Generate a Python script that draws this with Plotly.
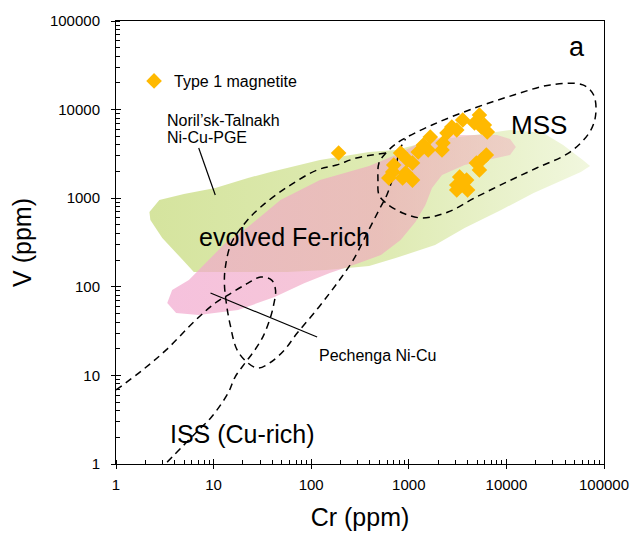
import plotly.graph_objects as go

# Type 1 magnetite analyses (Cr ppm, V ppm)
cr_type1 = [5290, 4710, 5540, 6370, 3570, 2760, 3100, 2460, 1660, 2240, 2190, 1580, 1250,
            824, 970, 1090, 685, 624, 926, 1090, 864, 6230, 5540, 4930, 3320, 3910, 3100,
            4000, 3100, 3570, 191, 701, 1410, 5940, 5290]
v_type1 = [8690, 7060, 6360, 5590, 7630, 6360, 5890, 5450, 4910, 4200, 3500, 3500, 3320,
           3240, 2700, 2500, 1980, 1690, 1925, 1600, 1690, 3070, 2700, 2500, 1735, 1600, 1410,
           1238, 1238, 1485, 3240, 2370, 3980, 6700, 2080]

# Noril'sk-Talnakh Ni-Cu-PGE field outline
norilsk_cr = [2.20, 2.78, 4.97, 10.4, 22.5, 38.4, 123, 392, 734, 1860, 4710, 11100, 23900,
              38100, 60700, 72000, 57900, 38100, 19000, 8830, 3730, 1860, 734, 392, 144, 57.0,
              17.8, 6.27, 4.63, 2.98, 2.25]
norilsk_v = [698, 955, 1115, 1303, 1690, 1977, 2700, 3320, 3500, 4540, 5170, 5890, 5450,
             3980, 2700, 2310, 1977, 1605, 1145, 736, 461, 296, 211, 172, 155, 147,
             147, 147, 211, 356, 567]

# evolved Fe-rich field outline
fe_cr = [3.35, 3.76, 5.58, 7.55, 13.2, 22.5, 48.4, 123, 392, 734, 1170, 2520, 8040, 10900,
         12500, 10900, 8040, 3730, 2190, 1730, 1480, 1170, 824, 518, 290, 155, 84.6, 42.2,
         17.8, 7.04, 4.13]
fe_v = [65.6, 92.0, 119, 167, 312, 473, 955, 1605, 2310, 3070, 3980, 5170, 5170, 4660,
        3780, 3070, 2840, 2370, 1830, 1303, 838, 539, 338, 229, 181, 143, 110, 76.7,
        54.7, 48.1, 50.6]

# MSS field outline (closed)
mss_cr = [582, 787, 1730, 4710, 11900, 28200, 60700, 78300, 82100, 71400, 44900, 20400,
          10100, 4710, 2520, 1380, 864, 582, 495, 483, 495, 582]
mss_v = [3240, 4310, 6700, 10400, 14600, 19000, 19000, 14600, 8690, 5590, 3320, 2190,
         1524, 1005, 698, 598, 681, 883, 1087, 1605, 2500, 3240]

# Pechenga Ni-Cu field outline
pech_cr = [582, 290, 182, 115, 57.0, 30.4, 21.0, 15.2, 13.2, 12.9, 13.5, 14.8, 17.4, 22.5,
           28.4, 37.5, 53.2, 71.9, 107, 155, 205, 270, 366, 495, 596, 685, 734, 806, 926]
pech_v = [3240, 2840, 2370, 2080, 1337, 796, 525, 312, 167, 110, 65.6, 37.1, 19.4, 13.8,
          12.1, 13.8, 19.4, 30.1, 50.6, 85.1, 129, 201, 384, 736, 1087, 1690, 2190, 3500, 4660]

# ISS (Cu-rich) field boundary (open curve)
iss_cr = [1.0, 1.87, 3.27, 6.57, 10.4, 15.2, 22.5, 30.4, 39.3, 43.1, 41.2, 37.5, 31.9, 26.5,
          21.0, 16.6, 14.1, 9.52, 7.04, 4.74, 3.2]
iss_v = [6.84, 11.5, 19.4, 42.2, 65.6, 85.1, 110, 129, 119, 92.0, 62.3, 42.2, 27.1, 19.4,
         13.8, 9.59, 6.33, 3.39, 2.42, 1.56, 1.0]

# label leader lines
norilsk_leader_cr = [7.04, 10.4]
norilsk_leader_v = [3690, 1087]
pech_leader_cr = [9.30, 115]
pech_leader_v = [85.1, 27.1]

axis_ticks = [1, 10, 100, 1000, 10000, 100000]
axis_ticktext = ["1", "10", "100", "1000", "10000", "100000"]

FONT = "Liberation Sans, Arial, sans-serif"

fig = go.Figure()

fig.add_trace(go.Scatter(
    x=norilsk_cr, y=norilsk_v, mode="lines", fill="toself", line=dict(width=0),
    fillgradient=dict(type="horizontal",
                      colorscale=[[0, "rgb(213,228,158)"], [0.55, "rgb(223,235,180)"],
                                  [1, "rgb(241,247,222)"]]),
    showlegend=False, hoverinfo="skip"))

fig.add_trace(go.Scatter(
    x=fe_cr, y=fe_v, mode="lines", fill="toself", line=dict(width=0),
    fillgradient=dict(type="horizontal",
                      colorscale=[[0, "rgba(242,170,208,0.72)"], [0.6, "rgba(240,165,190,0.62)"],
                                  [1, "rgba(240,175,190,0.5)"]]),
    showlegend=False, hoverinfo="skip"))

dash_line = dict(color="black", width=1.5, dash="7px,5px")
for xs, ys in [(mss_cr, mss_v), (pech_cr, pech_v), (iss_cr, iss_v)]:
    fig.add_trace(go.Scatter(x=xs, y=ys, mode="lines", line=dash_line,
                             line_shape="spline", showlegend=False, hoverinfo="skip"))

for xs, ys in [(norilsk_leader_cr, norilsk_leader_v), (pech_leader_cr, pech_leader_v)]:
    fig.add_trace(go.Scatter(x=xs, y=ys, mode="lines", line=dict(color="black", width=1.2),
                             showlegend=False, hoverinfo="skip"))

fig.add_trace(go.Scatter(
    x=cr_type1, y=v_type1, mode="markers", name="Type 1 magnetite",
    marker=dict(symbol="diamond", size=12, color="#FFB900", line=dict(width=0))))

# overlay axes for the inner half of the crossing major ticks
fig.add_trace(go.Scatter(x=[], y=[], xaxis="x2", yaxis="y2", showlegend=False, hoverinfo="skip"))

common = dict(type="log", range=[0, 5], showgrid=False, zeroline=False)
fig.update_layout(
    width=641, height=541,
    margin=dict(l=116, r=29, t=21, b=77),
    paper_bgcolor="white", plot_bgcolor="white",
    font=dict(family=FONT, color="black"),
    xaxis=dict(**common, showline=True, linecolor="black", linewidth=1, mirror=True,
               tickmode="array", tickvals=axis_ticks, ticktext=axis_ticktext,
               ticks="outside", ticklen=4, tickcolor="black", tickfont=dict(size=15),
               ticklabelstandoff=3,
               minor=dict(ticks="inside", ticklen=4, tickcolor="black", dtick="D1", showgrid=False),
               title=dict(text="Cr (ppm)", font=dict(size=25), standoff=16)),
    yaxis=dict(**common, showline=True, linecolor="black", linewidth=1, mirror=True,
               tickmode="array", tickvals=axis_ticks, ticktext=axis_ticktext,
               ticks="outside", ticklen=4, tickcolor="black", tickfont=dict(size=15),
               ticklabelstandoff=8,
               minor=dict(ticks="inside", ticklen=4, tickcolor="black", dtick="D1", showgrid=False),
               title=dict(text="V (ppm)", font=dict(size=25), standoff=11)),
    xaxis2=dict(**common, overlaying="x", anchor="y", side="bottom", showline=False,
                tickmode="array", tickvals=axis_ticks, ticks="inside", ticklen=5,
                tickcolor="black", showticklabels=False),
    yaxis2=dict(**common, overlaying="y", anchor="x", side="left", showline=False,
                tickmode="array", tickvals=axis_ticks, ticks="inside", ticklen=5,
                tickcolor="black", showticklabels=False),
    legend=dict(x=0.037, y=0.8646, xanchor="left", yanchor="middle", bgcolor="rgba(0,0,0,0)",
                font=dict(size=16), itemwidth=30),
    showlegend=True,
)

annotations = [
    dict(text="Noril’sk-Talnakh", x=0.1008, y=0.7765, size=16, xanchor="left"),
    dict(text="Ni-Cu-PGE", x=0.1008, y=0.7381, size=16, xanchor="left"),
    dict(text="evolved Fe-rich", x=0.3448, y=0.5124, size=25, xanchor="center"),
    dict(text="MSS", x=0.866, y=0.765, size=26, xanchor="center"),
    dict(text="ISS (Cu-rich)", x=0.258, y=0.0677, size=25, xanchor="center"),
    dict(text="Pechenga Ni-Cu", x=0.535, y=0.2438, size=16, xanchor="center"),
    dict(text="a", x=0.9456, y=0.941, size=27, xanchor="center"),
]
for a in annotations:
    fig.add_annotation(text=a["text"], x=a["x"], y=a["y"], xref="paper", yref="paper",
                       xanchor=a["xanchor"], yanchor="middle", showarrow=False,
                       font=dict(size=a["size"], family=FONT, color="black"))

fig.write_html("out.html")
